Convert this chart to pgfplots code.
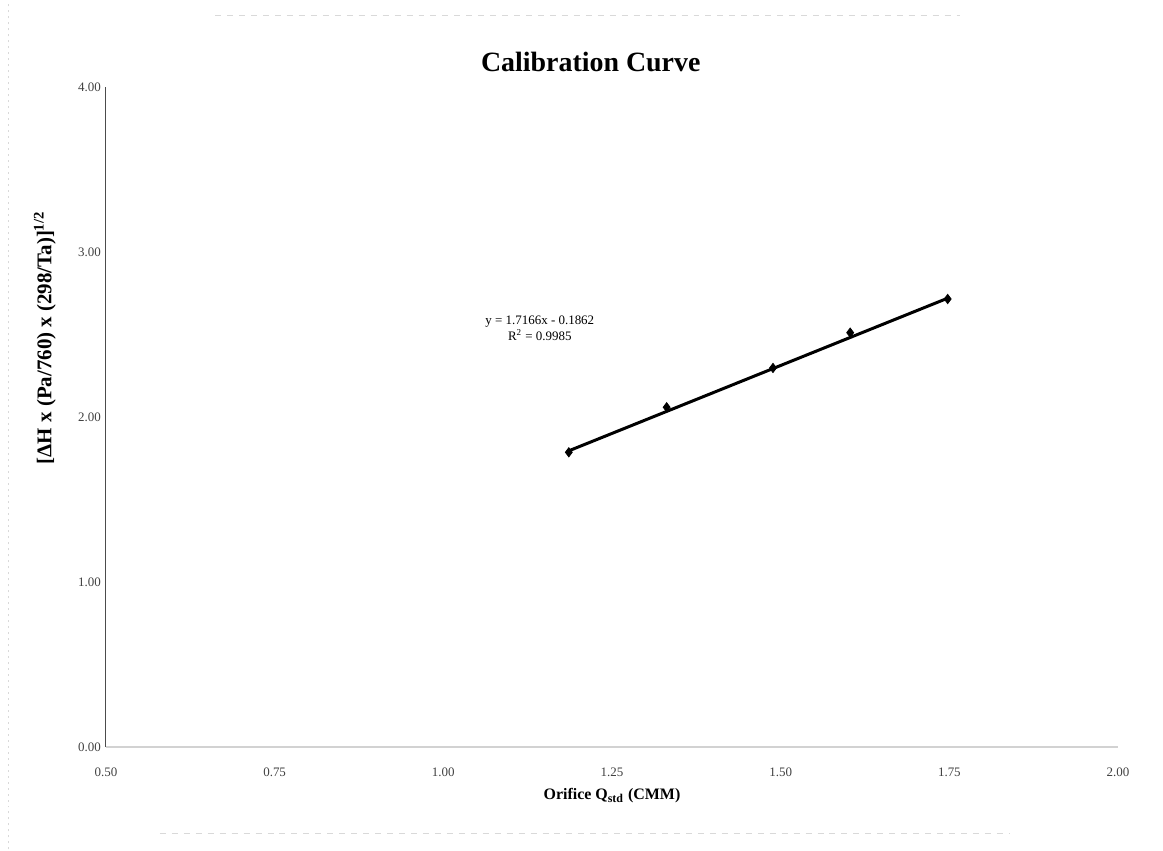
\documentclass[border=0pt]{standalone}
\usepackage{pgfplots}
\pgfplotsset{compat=1.18}
\usepackage{fontspec}
\setmainfont{Liberation Serif}
\begin{document}
\begin{tikzpicture}
\begin{axis}[
  scale only axis, width=506bp, height=330bp,
  xmin=0.5, xmax=2.0, ymin=0, ymax=4,
  axis x line=bottom, axis y line=left,
  axis line style={-},
  x axis line style={draw=gray!35, line width=0.6pt},
  y axis line style={draw=black!70, line width=0.5pt},
  xtick={0.5,0.75,1.0,1.25,1.5,1.75,2.0}, ytick={0,1,2,3,4},
  major tick length=0pt,
  /pgf/number format/fixed, /pgf/number format/fixed zerofill,
  /pgf/number format/precision=2, /pgf/number format/assume math mode=true,
  tick label style={font=\fontsize{6.5}{7}\selectfont, text=black!75},
  xticklabel style={yshift=-7bp},
  yticklabel style={xshift=1bp},
  title={Calibration Curve},
  title style={font=\bfseries\fontsize{14}{16}\selectfont, at={(axis description cs:0.479,1.02)}, anchor=center},
  xlabel={Orifice Q\textsubscript{std} (CMM)},
  xlabel style={font=\bfseries\fontsize{8}{9}\selectfont, at={(axis description cs:0.5,-0.074)}, anchor=center},
  ylabel={[ΔH x (Pa/760) x (298/Ta)]\textsuperscript{1/2}},
  ylabel style={font=\bfseries\fontsize{10.5}{12}\selectfont, at={(axis description cs:-0.0603,0.62)}, anchor=center, rotate=0},
  clip=false,
]
\path (axis cs:0.343,-0.624) rectangle (axis cs:2.0666,4.527);
\draw[gray!30, dashed, line width=0.4pt] (axis cs:0.662,4.436) -- (axis cs:1.766,4.436);
\draw[gray!30, dashed, line width=0.4pt] (axis cs:0.58,-0.521) -- (axis cs:1.84,-0.521);
\draw[gray!30, dash pattern=on 1pt off 2pt, line width=0.4pt] (axis cs:0.355,-0.62) -- (axis cs:0.355,4.52);
\addplot[black, line width=1.5bp, no marks] coordinates {(1.186,1.795) (1.7475,2.72)};
\addplot[only marks, mark=diamond*, mark size=2.3bp, black] coordinates {
  (1.186,1.786) (1.331,2.059) (1.4886,2.297) (1.603,2.511) (1.7475,2.715)};
\node[align=center, font=\fontsize{6.5}{8}\selectfont] at (axis cs:1.143,2.535)
  {y = 1.7166x - 0.1862\\R\textsuperscript{2} = 0.9985};
\end{axis}
\end{tikzpicture}
\end{document}
